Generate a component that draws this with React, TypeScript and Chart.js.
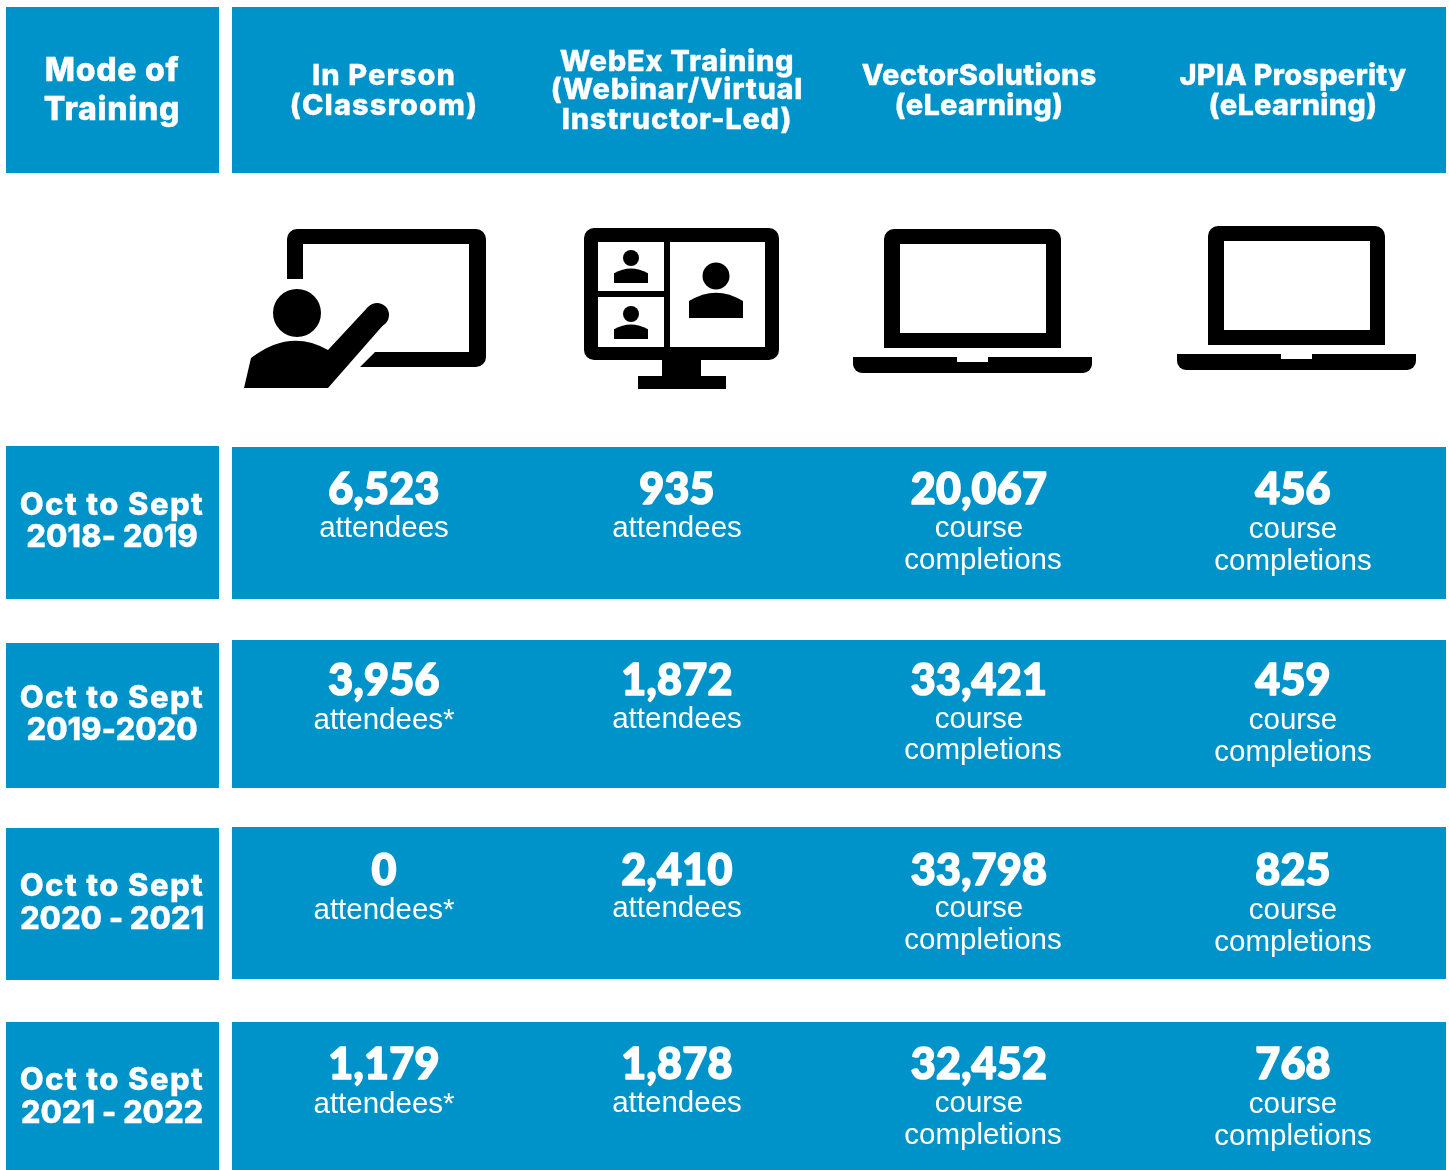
import React, { useEffect, useRef } from "react";
import { Chart, registerables } from "chart.js";

Chart.register(...registerables);

// ---------- data ----------
const cornerTitle = ["Mode of", "Training"];
const modes = [
  ["In Person", "(Classroom)"],
  ["WebEx Training", "(Webinar/Virtual", "Instructor-Led)"],
  ["VectorSolutions", "(eLearning)"],
  ["JPIA Prosperity", "(eLearning)"],
];
const periods = [
  ["Oct to Sept", "2018- 2019"],
  ["Oct to Sept", "2019-2020"],
  ["Oct to Sept", "2020 - 2021"],
  ["Oct to Sept", "2021 - 2022"],
];
const inPerson = [6523, 3956, 0, 1179];
const webEx = [935, 1872, 2410, 1878];
const vectorSolutions = [20067, 33421, 33798, 32452];
const jpia = [456, 459, 825, 768];
const inPersonUnits = ["attendees", "attendees*", "attendees*", "attendees*"];
const webExUnits = ["attendees", "attendees", "attendees", "attendees"];
const completionUnits = ["course", "completions"];

// ---------- layout ----------
const BLUE = "#0093c9";
const W = 1449;
const H = 1170;
const BODY = "'Liberation Sans', Arial, sans-serif";
const HEAVY = "Lato, Inter, sans-serif";
const TITLE = "Inter, Lato, sans-serif";
const colX = [384, 677, 979, 1293];
const rowY = [490, 681, 871, 1065];
const panels = [
  [6, 7, 219, 173], [232, 7, 1446, 173],
  [6, 446, 219, 599], [232, 447, 1446, 599],
  [6, 643, 219, 788], [232, 640, 1446, 788],
  [6, 828, 219, 980], [232, 827, 1446, 979],
  [6, 1022, 219, 1170], [232, 1022, 1446, 1170],
];
const headerY = [[76, 106], [62, 90, 120], [76, 106], [76, 106]];
const headerSpacing = [1.1, 0.7, 0.2, 0.2];
const cornerY = [71, 110];
const periodY = [[506, 538], [699, 731], [887, 920], [1081, 1114]];
const periodSpacing = [1.4, -0.1];
const unitY = [
  [[529], [529], [529, 561], [530, 562]],
  [[721], [720], [720, 751], [721, 753]],
  [[911], [909], [909, 941], [911, 943]],
  [[1105], [1104], [1104, 1136], [1105, 1137]],
];
// the last line of the VectorSolutions unit sits a little right of its column
const unitDx = [[0], [0], [0, 4], [0, 0]];

const fmt = (n: number) => n.toLocaleString("en-US");

function text(ctx: any, s: string, x: number, y: number, font: string, stroke = 0, spacing = 0) {
  ctx.font = font;
  ctx.letterSpacing = `${spacing}px`;
  ctx.fillStyle = "#fff";
  ctx.textAlign = "center";
  ctx.textBaseline = "middle";
  if (stroke) {
    ctx.strokeStyle = "#fff";
    ctx.lineWidth = stroke;
    ctx.lineJoin = "round";
    ctx.strokeText(s, x, y);
  }
  ctx.fillText(s, x, y);
  ctx.letterSpacing = "0px";
}

function rr(ctx: any, x0: number, y0: number, x1: number, y1: number, r: any) {
  ctx.beginPath();
  ctx.roundRect(x0, y0, x1 - x0, y1 - y0, r);
}

function person(ctx: any, cx: number, headY: number, r: number, hw: number, top: number, bottom: number) {
  ctx.fillStyle = "#000";
  ctx.beginPath();
  ctx.arc(cx, headY, r, 0, Math.PI * 2);
  ctx.fill();
  ctx.beginPath();
  ctx.moveTo(cx - hw, bottom);
  ctx.lineTo(cx - hw, top + (bottom - top) * 0.35);
  ctx.quadraticCurveTo(cx, top - (bottom - top) * 0.3, cx + hw, top + (bottom - top) * 0.35);
  ctx.lineTo(cx + hw, bottom);
  ctx.closePath();
  ctx.fill();
}

function laptop(ctx: any, dx: number, dy: number) {
  ctx.fillStyle = "#000";
  rr(ctx, 884 + dx, 229 + dy, 1061 + dx, 348 + dy, [10, 10, 0, 0]);
  ctx.fill();
  ctx.fillStyle = "#fff";
  ctx.fillRect(900 + dx, 244 + dy, 146, 89);
  ctx.fillStyle = "#000";
  rr(ctx, 853 + dx, 357 + dy, 1092 + dx, 373 + dy, [0, 0, 9, 9]);
  ctx.fill();
  ctx.fillStyle = "#fff";
  ctx.fillRect(957 + dx, 356 + dy, 31, 6);
}

function icons(ctx: any) {
  ctx.save();
  // trainer at whiteboard
  ctx.fillStyle = "#000";
  ctx.beginPath();
  ctx.moveTo(287, 279);
  ctx.lineTo(287, 239);
  ctx.arcTo(287, 229, 297, 229, 10);
  ctx.lineTo(476, 229);
  ctx.arcTo(486, 229, 486, 239, 10);
  ctx.lineTo(486, 357);
  ctx.arcTo(486, 367, 476, 367, 10);
  ctx.lineTo(360, 367);
  ctx.lineTo(375, 352);
  ctx.lineTo(469, 352);
  ctx.lineTo(469, 244);
  ctx.lineTo(303, 244);
  ctx.lineTo(303, 279);
  ctx.closePath();
  ctx.fill();
  ctx.beginPath();
  ctx.arc(297, 313, 24, 0, Math.PI * 2);
  ctx.fill();
  ctx.beginPath();
  ctx.moveTo(244, 388);
  ctx.lineTo(251, 358);
  ctx.quadraticCurveTo(290, 328, 328, 350);
  ctx.lineTo(368, 307);
  ctx.lineTo(385, 323);
  ctx.lineTo(328, 388);
  ctx.closePath();
  ctx.fill();
  ctx.beginPath();
  ctx.arc(377, 315, 12, 0, Math.PI * 2);
  ctx.fill();

  // video call monitor
  rr(ctx, 584, 228, 779, 360, 10);
  ctx.fill();
  ctx.fillRect(662, 359, 39, 18);
  ctx.fillRect(638, 376, 88, 13);
  ctx.fillStyle = "#fff";
  ctx.fillRect(598, 242, 66, 49);
  ctx.fillRect(598, 297, 66, 50);
  ctx.fillRect(670, 242, 95, 105);
  person(ctx, 716, 276, 13.5, 27, 292, 318);
  person(ctx, 631, 258, 8, 17, 268, 283);
  person(ctx, 631, 314, 8, 17, 324, 339);

  laptop(ctx, 0, 0);
  laptop(ctx, 324, -3);
  ctx.restore();
}

const panelPlugin = {
  id: "panels",
  beforeDatasetsDraw(chart: any) {
    const { ctx, scales } = chart;
    ctx.save();
    ctx.fillStyle = BLUE;
    for (const [x0, y0, x1, y1] of panels) {
      const px0 = scales.x.getPixelForValue(x0);
      const px1 = scales.x.getPixelForValue(x1);
      const py0 = scales.y.getPixelForValue(y0);
      const py1 = scales.y.getPixelForValue(y1);
      ctx.fillRect(px0, py0, px1 - px0, py1 - py0);
    }
    ctx.restore();
    icons(ctx);
  },
};

const labelPlugin = {
  id: "labels",
  afterDatasetsDraw(chart: any) {
    const { ctx, scales } = chart;
    const X = (v: number) => scales.x.getPixelForValue(v);
    const Y = (v: number) => scales.y.getPixelForValue(v);
    ctx.save();
    cornerTitle.forEach((s, i) => text(ctx, s, X(112), Y(cornerY[i]), `800 32px ${TITLE}`, 0.4, 0.7));
    modes.forEach((lines, c) =>
      lines.forEach((s, i) => text(ctx, s, X(colX[c]), Y(headerY[c][i]), `800 29px ${TITLE}`, 0.3, headerSpacing[c]))
    );
    periods.forEach((lines, r) =>
      lines.forEach((s, i) => text(ctx, s, X(112), Y(periodY[r][i]), `800 31px ${TITLE}`, 0.3, periodSpacing[i]))
    );
    chart.data.datasets.forEach((ds: any, c: number) => {
      const meta = chart.getDatasetMeta(c);
      meta.data.forEach((pt: any, r: number) => {
        text(ctx, fmt(ds.data[r].value), pt.x, pt.y, `900 43px ${HEAVY}`, 1.6, 0.3);
        ds.units[r].forEach((u: string, i: number) =>
          text(ctx, u, pt.x + unitDx[c][i], Y(unitY[r][c][i]), `29.5px ${BODY}`)
        );
      });
    });
    ctx.restore();
  },
};

const series = [inPerson, webEx, vectorSolutions, jpia];
const seriesUnits = [
  inPersonUnits.map((u) => [u]),
  webExUnits.map((u) => [u]),
  periods.map(() => completionUnits),
  periods.map(() => completionUnits),
];

export default function App() {
  const ref = useRef<HTMLCanvasElement>(null);
  useEffect(() => {
    const chart = new Chart(ref.current!, {
      type: "scatter",
      data: {
        datasets: series.map((vals, c) => ({
          label: modes[c].join(" "),
          units: seriesUnits[c],
          pointRadius: 0,
          data: vals.map((value, r) => ({ x: colX[c], y: rowY[r], value })),
        })) as any,
      },
      options: {
        animation: false,
        responsive: false,
        layout: { padding: 0 },
        plugins: { legend: { display: false }, tooltip: { enabled: false } },
        scales: {
          x: { type: "linear", display: false, min: 0, max: W },
          y: { type: "linear", display: false, min: 0, max: H, reverse: true },
        },
      },
      plugins: [panelPlugin, labelPlugin],
    });
    return () => chart.destroy();
  }, []);
  return (
    <canvas
      ref={ref}
      width={W}
      height={H}
      style={{ position: "absolute", left: 0, top: 0, width: W, height: H, background: "#fff" }}
    />
  );
}
